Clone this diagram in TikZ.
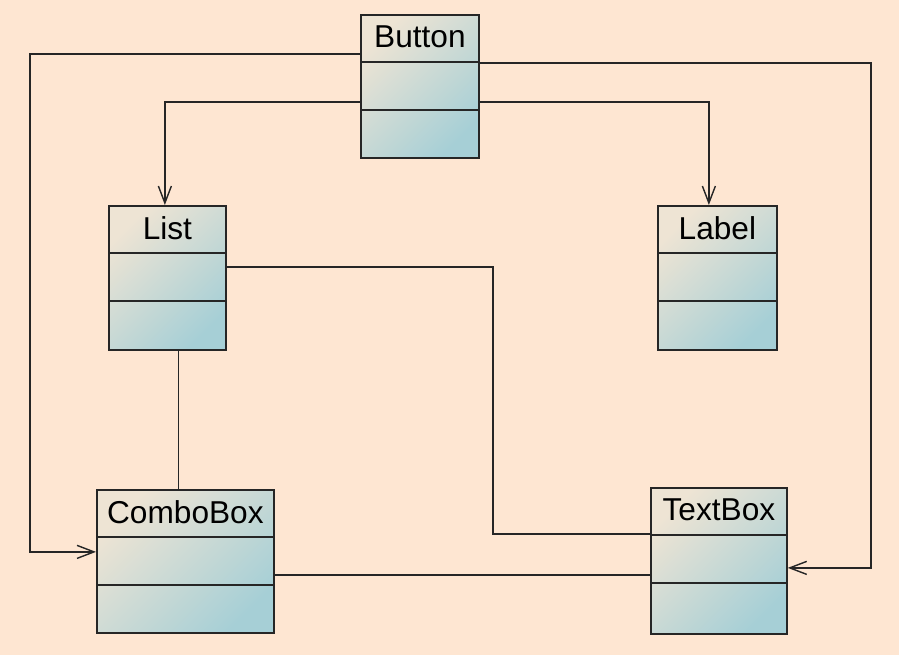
\documentclass[tikz,border=0pt]{standalone}
\usepackage{fontspec}
\setmainfont{Liberation Sans}
\usepackage{tikz}
\usetikzlibrary{arrows.meta,positioning}
\definecolor{bgpeach}{RGB}{254,230,210}
\definecolor{boxtop}{RGB}{238,228,212}
\definecolor{boxbot}{RGB}{166,207,214}
\tikzset{
  classbox/.style={draw=black!85,line width=1pt,top color=boxtop,bottom color=boxbot,shading angle=45,inner sep=0pt,anchor=north west},
  classname/.style={font=\fontsize{18}{20}\selectfont,inner sep=0pt},
  assoc/.style={draw=black!85,line width=1pt},
  navi/.style={assoc,-{Straight Barb[length=3.4mm,width=2.6mm,line width=0.8pt]}},
}

\begin{document}
\begin{tikzpicture}
      \fill[bgpeach] (0,0) rectangle (17.98,-13.1);
      % classes
      \node[classbox,minimum width=2.36cm,minimum height=2.86cm] (button) at (7.2,-0.28) {};
      \node[classbox,minimum width=2.34cm,minimum height=2.88cm] (list) at (2.16,-4.1) {};
      \node[classbox,minimum width=2.38cm,minimum height=2.88cm] (label) at (13.14,-4.1) {};
      \node[classbox,minimum width=3.54cm,minimum height=2.86cm] (combo) at (1.92,-9.78) {};
      \node[classbox,minimum width=2.72cm,minimum height=2.92cm] (textbox) at (13.0,-9.74) {};
      \foreach \c in {button,list,label,combo,textbox}{
        \draw[assoc] ([yshift=-0.96cm]\c.north west) -- ([yshift=-0.96cm]\c.north east);
        \draw[assoc] ([yshift=-1.92cm]\c.north west) -- ([yshift=-1.92cm]\c.north east);
      }
      \node[classname,below=0.22 of button.north] {Button};
      \node[classname,below=0.22 of list.north] {List};
      \node[classname,below=0.22 of label.north] {Label};
      \node[classname,below=0.22 of combo.north] {ComboBox};
      \node[classname,below=0.22 of textbox.north] {TextBox};
      % connectors
      \draw[navi] ([yshift=-0.8cm]button.north west) -- ++(-6.6,0) |- ([yshift=0.19cm]combo.west);
      \draw[navi] ([yshift=-1.76cm]button.north west) -| ([xshift=-0.05cm]list.north);
      \draw[navi] ([yshift=-1.76cm]button.north east) -| ([xshift=-0.17cm]label.north);
      \draw[navi] ([yshift=-0.98cm]button.north east) -- ++(7.82,0) |- ([yshift=-0.14cm]textbox.east);
      \draw[assoc] ([yshift=-1.24cm]list.north east) -- ++(5.32,0) |- ([yshift=0.54cm]textbox.west);
      \draw[assoc] ([xshift=0.22cm]list.south) -- ([xshift=0.22cm]list.south |- combo.north);
      \draw[assoc] ([yshift=-0.27cm]combo.east) -- ([yshift=-0.27cm]combo.east -| textbox.west);
    \end{tikzpicture}
\end{document}
